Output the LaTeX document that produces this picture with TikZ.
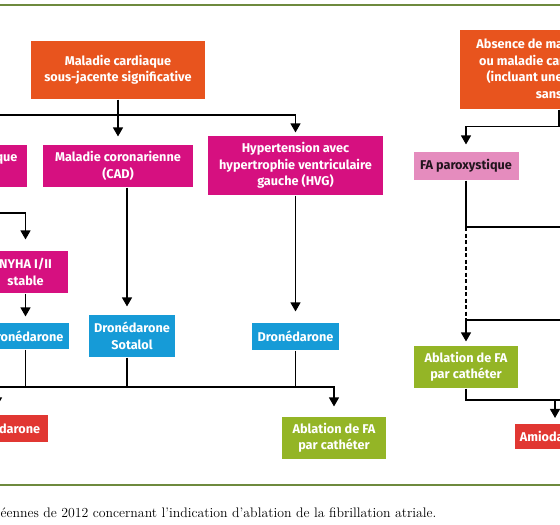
\documentclass[tikz,border=0pt]{standalone}
\usepackage{fontspec}
\newfontfamily\boxfont{Fira Sans}
\usetikzlibrary{arrows.meta}
\definecolor{orng}{HTML}{E8541E}
\definecolor{mgnt}{HTML}{D61080}
\definecolor{lpink}{HTML}{E58CBE}
\definecolor{blu}{HTML}{169BD7}
\definecolor{grn}{HTML}{94B526}
\definecolor{rd}{HTML}{E13732}
\definecolor{olv}{HTML}{6E8A3E}
\tikzstyle{bx}=[shape=rectangle, inner sep=0, align=center, text=white, font=\boxfont\bfseries\fontsize{12.7}{16.5}\selectfont]
\tikzstyle{arr}=[-{Triangle[length=9pt,width=10pt]}]

\begin{document}
\begin{tikzpicture}[x=1pt, y=-1pt, line width=1.1pt]
\useasboundingbox (0,0) rectangle (560,525);
\draw[olv, line width=2pt] (-2,5)--(562,5);
\draw[olv, line width=2pt] (-2,485)--(562,485);
% left half
\node at (118,70)[bx, fill=orng, minimum width=174pt, minimum height=58pt](sig){Maladie cardiaque\\sous-jacente significative};
\node at (28,166)[bx, fill=mgnt, anchor=east, inner xsep=10pt, minimum height=42pt](ic){Insuffisance cardiaque\\congestive};
\node at (118,166)[bx, fill=mgnt, minimum width=150pt, minimum height=42pt](cad){Maladie coronarienne\\(CAD)};
\node at (295.5,165.5)[bx, fill=mgnt, minimum width=175pt, minimum height=59pt](hvg){Hypertension avec\\hypertrophie ventriculaire\\gauche (HVG)};
\node at (25.5,272)[bx, fill=mgnt, minimum width=85pt, minimum height=42pt](nyha){NYHA I/II\\stable};
\node at (25.5,336)[bx, fill=blu, minimum width=87pt, minimum height=26pt](dron1){Dronédarone};
\node at (132,336)[bx, fill=blu, minimum width=86pt, minimum height=42pt](dron2){Dronédarone\\Sotalol};
\node at (295.5,336.5)[bx, fill=blu, minimum width=87pt, minimum height=27pt](dron3){Dronédarone};
\node at (5,428.5)[bx, fill=rd, minimum width=86pt, minimum height=27pt](amio1){Amiodarone};
\node at (334,438)[bx, fill=grn, minimum width=104pt, minimum height=42pt](abl1){Ablation de FA\\par cathéter};
% right half
\node at (459,69.5)[bx, fill=orng, anchor=west, minimum width=210pt, minimum height=79pt](abs){Absence de maladie cardiaque\\ou maladie cardiaque minime\\(incluant une hypertension\\sans HVG)};
\node at (466,166)[bx, fill=lpink, text=black!85!lpink, minimum width=105pt, minimum height=28pt](fa){FA paroxystique};
\node at (466,367)[bx, fill=grn, minimum width=104pt, minimum height=42pt](abl2){Ablation de FA\\par cathéter};
\node at (555,436)[bx, fill=rd, minimum width=80pt, minimum height=25pt](amio2){Amiodarone};
\node at (0,517)[anchor=base west, inner sep=0, font=\fontsize{13.8}{16}\selectfont](cap){éennes de 2012 concernant l'indication d'ablation de la fibrillation atriale.};
% connectors
\coordinate (t1) at (0,115);
\coordinate (t2) at (0,213);
\coordinate (t3) at (0,387);
\coordinate (cx) at (127,0);
\coordinate (ax) at (-3,0);
\coordinate (rx) at (559,0);
\draw[arr, shorten >=8pt] (sig.south)--(cad.north);
\draw[arr, shorten >=3pt] (ic.north |- t1) -| (hvg.north);
\draw[arr] (ic.north |- t1)--(ic.north);
\draw[arr, shorten >=11pt] (ic.south) |- (nyha.north |- t2)--(nyha.north);
\draw[arr, shorten >=6pt] (nyha.south)--(dron1.north);
\draw[arr, shorten >=8pt] (cad.south -| cx)--(dron2.north -| cx);
\draw[arr, shorten >=11pt] (hvg.south)--(dron3.north);
\draw (dron1.south)--(dron1.south |- t3);
\draw (dron2.south -| cx)--(t3 -| cx);
\draw (dron3.south)--(dron3.south |- t3);
\draw[arr, shorten >=10pt] (t3 -| ax) -| (abl1.north);
\draw[arr, shorten >=8pt] (t3 -| ax)--(amio1.north -| ax);
\coordinate (r1) at (570,227);
\coordinate (r2) at (570,320);
\coordinate (r3) at (570,400);
\draw[arr, shorten >=7pt] (abs.south -| rx)--++(0,17) -| (fa.north);
\draw (fa.south) |- (r1);
\draw[dash pattern=on 4pt off 2.5pt] (fa.south |- r1)--(fa.south |- r2);
\draw[arr, shorten >=4pt] (r2) -| (abl2.north);
\draw (abl2.south) |- (r3);
\draw[arr, shorten >=5pt] (abl2.south |- r3) -| (amio2.north);
\end{tikzpicture}
\end{document}
